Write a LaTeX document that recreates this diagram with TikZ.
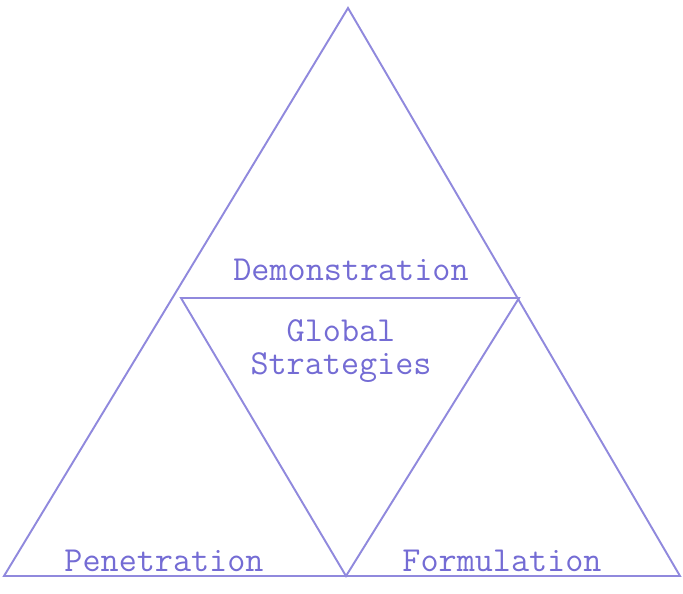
\documentclass[tikz,border=0pt]{standalone}
\usepackage{fontspec}
\definecolor{ink}{RGB}{116,108,212}

\begin{document}
\begin{tikzpicture}[x=0.02cm,y=-0.02cm,edge/.style={draw=ink!80,line width=1.1pt,line join=miter},label/.style={text=ink,font=\ttfamily\fontsize{20}{18.5}\selectfont,align=center,inner sep=0pt}]
\useasboundingbox (0,0) rectangle (683,593);
\coordinate (top) at (348,8);
\coordinate (bl) at (4,576);
\coordinate (br) at (680,576);
\coordinate (ml) at (181,298);
\coordinate (mr) at (519,298);
\coordinate (mb) at (346,576);
\draw[edge] (top)--(bl)--(br)--cycle;
\draw[edge] (ml)--(mr)--(mb)--cycle;
\node[label] (demo) at (351,270) {Demonstration};
\node[label] (glob) at (341,351) {Global\\Strategies};
\node[label] (pene) at (164,561) {Penetration};
\node[label] (form) at (502,561) {Formulation};
\end{tikzpicture}
\end{document}
